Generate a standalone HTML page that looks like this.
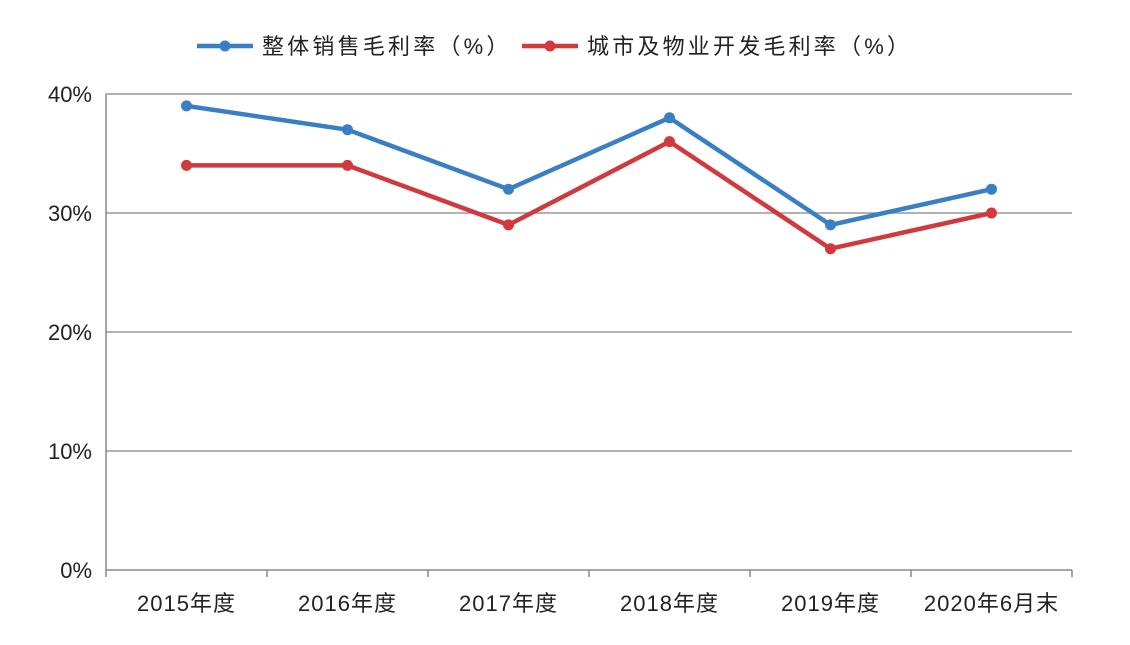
<!DOCTYPE html>
<html><head><meta charset="utf-8"><style>
body{margin:0;background:#fff;}
svg text{font-family:"Liberation Sans","Noto Sans CJK SC",sans-serif;fill:#222;}
</style></head><body>
<svg width="1130" height="640" id="chart"></svg>
<script>
const categories=["2015年度","2016年度","2017年度","2018年度","2019年度","2020年6月末"];
const overallMargin=[39,37,32,38,29,32];
const devMargin=[34,34,29,36,27,30];
const yTicks=[0,10,20,30,40];
const seriesNames=["整体销售毛利率（%）","城市及物业开发毛利率（%）"];
const NS="http://www.w3.org/2000/svg";
const svg=document.getElementById('chart');
const L=106,R=1072,T=94,B=570,yMax=40;
const bw=(R-L)/categories.length;
const x=i=>L+bw*(i+0.5);
const y=v=>B-(v/yMax)*(B-T);
function mk(tag,a,parent){const e=document.createElementNS(NS,tag);for(const k in a)e.setAttribute(k,a[k]);(parent||svg).appendChild(e);return e;}
yTicks.forEach(t=>{
  const g=mk('line',{x1:L,x2:R,y1:y(t),y2:y(t),stroke:t===0?'#888':'#999','stroke-width':1.5});
  
  
  const tx=mk('text',{x:L-14,y:y(t)+8,'text-anchor':'end','font-size':22});
  tx.textContent=t+'%';
  
  
});
mk('line',{x1:L,x2:L,y1:T,y2:B,stroke:'#888','stroke-width':1.5});
for(let i=0;i<=categories.length;i++){
  mk('line',{x1:L+bw*i,x2:L+bw*i,y1:B,y2:B+7,stroke:'#888','stroke-width':1.5});
}
categories.forEach((c,i)=>{
  const tx=mk('text',{x:x(i),y:611,'text-anchor':'middle','font-size':22,'letter-spacing':1});
  tx.textContent=c;
  
  
});
function series(vals,color,name){
  const p=mk('polyline',{points:vals.map((v,i)=>x(i)+','+y(v)).join(' '),fill:'none',stroke:color,'stroke-width':4.5,'stroke-linejoin':'round'});
  
  
  vals.forEach((v,i)=>{
    const c=mk('circle',{cx:x(i),cy:y(v),r:5.5,fill:color});
    
    
  });
}
series(devMargin,'#d0393e','dev-margin');
series(overallMargin,'#3a7fc4','overall-margin');
[[197,'#3a7fc4',seriesNames[0]],[522,'#d0393e',seriesNames[1]]].forEach(([lx,col,nm],k)=>{
  const g=mk('g',{});
  
  
  mk('line',{x1:lx,x2:lx+56,y1:46,y2:46,stroke:col,'stroke-width':4.5},g);
  mk('circle',{cx:lx+28,cy:46,r:5.5,fill:col},g);
  const t=mk('text',{x:lx+65,y:54,'font-size':22,'letter-spacing':3.2},g);
  t.textContent=nm;
});
</script>
</body></html>
